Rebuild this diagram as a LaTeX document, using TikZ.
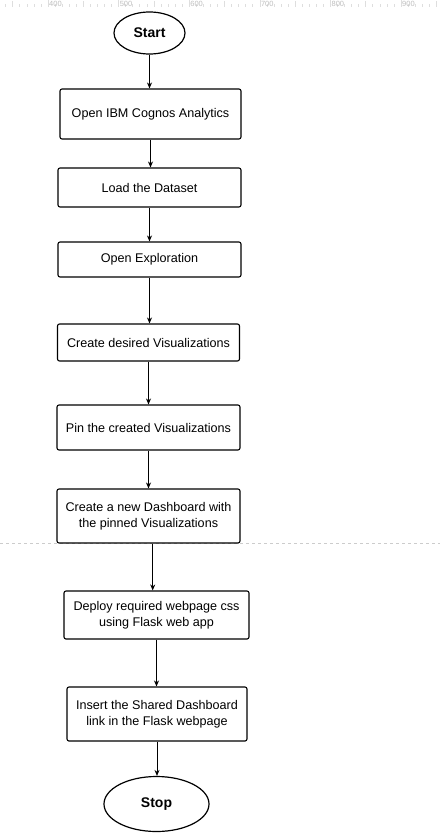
\documentclass[tikz,border=0pt]{standalone}
\usepackage{fontspec}
\setmainfont{Liberation Sans}
\usetikzlibrary{
    arrows.meta,
    positioning,
    shapes.geometric
}

\begin{document}
\begin{tikzpicture}[
    x=1pt, y=-1pt,
    term/.style={ellipse, draw, line width=1.2pt, inner sep=0pt, font=\bfseries\fontsize{14}{16}\selectfont},
    proc/.style={rectangle, draw, rounded corners=2pt, line width=1.1pt, inner sep=0pt, minimum width=183pt, align=center, font=\fontsize{12.6}{16}\selectfont},
    arrow/.style={-{Stealth[length=6pt, width=5pt]}, line width=0.8pt},
    ruler/.style={draw=black!13, line width=0.6pt},
    rulertext/.style={anchor=west, inner sep=0pt, text=black!25, font=\fontsize{7.5}{8}\selectfont},
    pagebreak/.style={draw=black!20, dashed, dash pattern=on 3pt off 3pt, line width=0.6pt}
]
\useasboundingbox[fill=white] (0,0) rectangle (440,833);

% Ruler and page break
\foreach \v in {340,350,...,950} \draw[ruler] ({48+(\v-400)*0.706},4) -- ++(0,3);
\foreach \v in {350,450,...,950} \draw[ruler] ({48+(\v-400)*0.706},1) -- ++(0,6);
\foreach \v in {400,500,...,900} {
    \draw[ruler] ({48+(\v-400)*0.706},0) -- ++(0,7);
    \node[rulertext] (r\v) at ({49+(\v-400)*0.706},3.5) {\v};
}
\draw[pagebreak] (0,543) -- (440,543);

% Flow
\node[term, minimum width=71pt, minimum height=42pt] (start) at (149.5,33) {Start};
\node[proc, minimum width=181pt, minimum height=50pt] (cognos) at (150.5,114) {Open IBM Cognos Analytics};
\node[proc, minimum height=39pt] (load) at (149.5,187.5) {Load the Dataset};
\node[proc, minimum height=35pt] (explore) at (149.5,259.5) {Open Exploration};
\node[proc, minimum width=182pt, minimum height=37pt] (create) at (148.5,342.5) {Create desired Visualizations};
\node[proc, minimum height=45pt] (pin) at (148.5,427.5) {Pin the created Visualizations};
\node[proc, minimum height=54pt] (dash) at (148.5,516) {Create a new Dashboard with\\the pinned Visualizations};
\node[proc, minimum width=185pt, minimum height=48pt] (deploy) at (156.5,615) {Deploy required webpage css\\using Flask web app};
\node[proc, minimum width=180pt, minimum height=54pt] (insert) at (157,714) {Insert the Shared Dashboard\\link in the Flask webpage};
\node[term, minimum width=105pt, minimum height=55pt] (stop) at (156.5,804) {Stop};

\draw[arrow] (start) -- (start |- cognos.north);
\draw[arrow] (cognos) -- (cognos |- load.north);
\draw[arrow] (load) -- (load |- explore.north);
\draw[arrow] (explore) -- (explore |- create.north);
\draw[arrow] (create) -- (create |- pin.north);
\draw[arrow] (pin) -- (pin |- dash.north);
\draw[arrow] ([xshift=4.2pt]dash.south) -- ([xshift=4.2pt]dash.south |- deploy.north);
\draw[arrow] (deploy) -- (deploy |- insert.north);
\draw[arrow] (insert) -- (insert |- stop.north);
\end{tikzpicture}
\end{document}
